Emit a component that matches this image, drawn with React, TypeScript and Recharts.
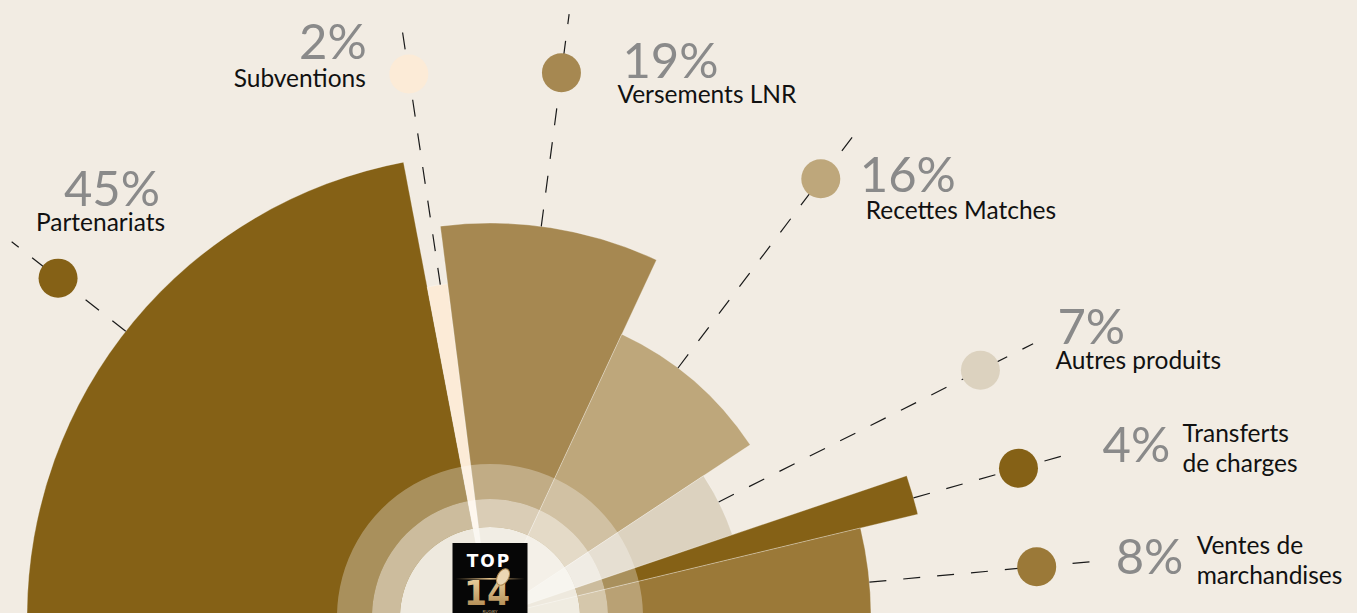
import React from 'react';
import { PieChart, Pie, Cell } from 'recharts';

// ---------- data ----------
const CATEGORIES = [
  'Partenariats',
  'Subventions',
  'Versements LNR',
  'Recettes Matches',
  'Autres produits',
  'Transferts de charges',
  'Ventes de marchandises',
];
// printed percentages
const PERCENT_LABELS = ['45%', '2%', '19%', '16%', '7%', '4%', '8%'];
// angular share of each slice (%)
const ANGLE_SHARES = [44.0, 1.96, 17.9, 17.5, 8.2, 2.9, 7.5];
// label text split in lines
const NAME_LINES = [
  ['Partenariats'],
  ['Subventions'],
  ['Versements LNR'],
  ['Recettes Matches'],
  ['Autres produits'],
  ['Transferts', 'de charges'],
  ['Ventes de', 'marchandises'],
];

// ---------- style / layout ----------
const W = 1357;
const H = 613;
const CX = 490;
const CY = 617;
const BG = '#F2ECE3';
const COLORS = ['#856116', '#FCEBD7', '#A68851', '#BEA77B', '#DCD2BF', '#856116', '#9B7938'];
const RADII = [463, 336, 394, 312, 256, 440, 381];
const DOT_R = 549;
const LINE_END_R = 608;
const FONT = "Lato, 'Noto Sans', sans-serif";

// callout layout: angular nudge of the leader from the slice middle (deg), text offsets from the dot
type Layout = { nudge: number; anchor: 'start' | 'end'; pct: [number, number]; name: [number, number] };
const LABEL_LAYOUT: Layout[] = [
  { nudge: 1.5, anchor: 'end', pct: [102, -72], name: [107, -47] },
  { nudge: -0.5, anchor: 'end', pct: [-42, -15], name: [-43, 13] },
  { nudge: 1.4, anchor: 'start', pct: [61, 5], name: [56, 30] },
  { nudge: 3.7, anchor: 'start', pct: [39, 13], name: [45, 40] },
  { nudge: 0.6, anchor: 'start', pct: [77, -26], name: [75, -1] },
  { nudge: -0.4, anchor: 'start', pct: [84, -6], name: [164, -26] },
  { nudge: -1.5, anchor: 'start', pct: [79, 7], name: [160, -13] },
];

const sliceData = CATEGORIES.map((name, i) => ({ name, share: ANGLE_SHARES[i] }));
const ringData = [{ name: 'ring', v: 1 }];

const RAD = Math.PI / 180;
const polar = (cx: number, cy: number, r: number, a: number) => ({
  x: cx + r * Math.cos(a * RAD),
  y: cy - r * Math.sin(a * RAD),
});

const renderLabel = (props: any) => {
  const { cx, cy, midAngle, index } = props;
  const i = index as number;
  const L = LABEL_LAYOUT[i];
  const a = midAngle + L.nudge;
  const p0 = polar(cx, cy, RADII[i], a);
  const p1 = polar(cx, cy, LINE_END_R, a);
  const d = polar(cx, cy, DOT_R, a);
  return (
    <g key={`lbl-${i}`}>
      <line x1={p0.x} y1={p0.y} x2={p1.x} y2={p1.y} stroke="#1a1a1a" strokeWidth={1.2} strokeDasharray="17 17" />
      <circle cx={d.x} cy={d.y} r={19.5} fill={COLORS[i]} />
      <text x={d.x + L.pct[0]} y={d.y + L.pct[1]} textAnchor={L.anchor} fill="#8A8A8A" fontFamily={FONT} fontSize={49} fontWeight={400}>
        {PERCENT_LABELS[i]}
      </text>
      {NAME_LINES[i].map((ln, k) => (
        <text key={k} x={d.x + L.name[0]} y={d.y + L.name[1] + k * 30} textAnchor={L.anchor} fill="#111" fontFamily={FONT} fontSize={24.5}>
          {ln}
        </text>
      ))}
    </g>
  );
};

const renderLogo = (props: any) => {
  const { cx, cy } = props;
  const x0 = cx - 37.5;
  const y0 = cy - 74;
  return (
    <g key="logo">
      <defs>
        <linearGradient id="goldLine" x1="0" x2="1" y1="0" y2="0">
          <stop offset="0" stopColor="#C9A36A" stopOpacity={0} />
          <stop offset="0.5" stopColor="#E6C48C" stopOpacity={1} />
          <stop offset="1" stopColor="#C9A36A" stopOpacity={0} />
        </linearGradient>
        <linearGradient id="gold14" x1="0" x2="0" y1="0" y2="1">
          <stop offset="0" stopColor="#F1D9A8" />
          <stop offset="1" stopColor="#A77E45" />
        </linearGradient>
      </defs>
      <rect x={x0} y={y0} width={75} height={75} fill="#060606" />
      <text x={cx - 1} y={cy - 50} textAnchor="middle" fill="#fff" fontFamily="'DejaVu Sans', sans-serif" fontWeight={700} fontSize={17} letterSpacing={2}>
        TOP
      </text>
      <rect x={x0 + 3} y={cy - 39} width={69} height={1.6} fill="url(#goldLine)" />
      <text x={cx - 3} y={cy - 12} textAnchor="middle" fill="url(#gold14)" fontFamily="'DejaVu Sans', sans-serif" fontWeight={700} fontSize={33}>
        14
      </text>
      <ellipse cx={cx + 13} cy={cy - 40} rx={5.5} ry={9} transform={`rotate(30 ${cx + 13} ${cy - 40})`} fill="#EBD7B4" stroke="#B08A52" strokeWidth={1} />
      <text x={cx} y={cy - 4} textAnchor="middle" fill="#B9A27A" fontFamily={FONT} fontSize={4.5}>
        RUGBY
      </text>
    </g>
  );
};

export default function App() {
  return (
    <div style={{ position: 'absolute', left: 0, top: 0, width: W, height: H, background: BG, overflow: 'hidden' }}>
      <PieChart width={W} height={H} margin={{ top: 0, right: 0, bottom: 0, left: 0 }}>
        {RADII.map((r, k) => (
          <Pie
            key={`slice-${k}`}
            data={sliceData}
            dataKey="share"
            nameKey="name"
            cx={CX}
            cy={CY}
            startAngle={180}
            endAngle={0}
            innerRadius={0}
            outerRadius={r}
            isAnimationActive={false}
            stroke="none"
          >
            {sliceData.map((_, i) => (
              <Cell
                key={i}
                fill={i === k ? COLORS[i] : 'transparent'}
                stroke={i === k ? 'rgba(255,255,255,0.35)' : 'none'}
                strokeWidth={0.8}
              />
            ))}
          </Pie>
        ))}
        <Pie data={ringData} dataKey="v" cx={CX} cy={CY} startAngle={0} endAngle={360} innerRadius={118} outerRadius={153} fill="#fff" fillOpacity={0.3} stroke="none" isAnimationActive={false} />
        <Pie data={ringData} dataKey="v" cx={CX} cy={CY} startAngle={0} endAngle={360} innerRadius={90} outerRadius={118} fill="#fff" fillOpacity={0.58} stroke="none" isAnimationActive={false} />
        <Pie
          data={ringData}
          dataKey="v"
          cx={CX}
          cy={CY}
          startAngle={0}
          endAngle={360}
          innerRadius={0}
          outerRadius={90}
          fill="#FAF8F4"
          fillOpacity={0.9}
          stroke="none"
          isAnimationActive={false}
          label={renderLogo}
          labelLine={false}
        />
        <Pie
          data={sliceData}
          dataKey="share"
          nameKey="name"
          cx={CX}
          cy={CY}
          startAngle={180}
          endAngle={0}
          innerRadius={0}
          outerRadius={10}
          fill="transparent"
          stroke="none"
          isAnimationActive={false}
          label={renderLabel}
          labelLine={false}
        />
      </PieChart>
    </div>
  );
}
